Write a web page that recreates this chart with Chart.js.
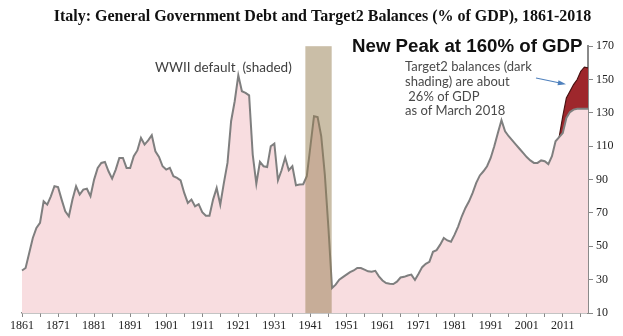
<!DOCTYPE html>
<html>
<head>
<meta charset="utf-8">
<script src="https://cdn.jsdelivr.net/npm/chart.js@4/dist/chart.umd.min.js"></script>
<style>
  body { margin: 0; background: #fff; }
  #wrap { width: 623px; height: 336px; }
</style>
</head>
<body>
<div id="wrap"><canvas id="chart" width="623" height="336"></canvas></div>
<script>
// years 1861..2018
const years = [];
for (let y = 1861; y <= 2018; y++) years.push(y);

// general government debt, % of GDP
const debt = [
  35.5, 37, 46, 55, 61, 64, 77, 75, 80, 86,          // 1861-1870
  85.5, 78, 71, 68, 78, 86, 81, 84, 84.5, 80,        // 1871-1880
  90, 97, 100, 100.6, 95, 90.6, 96, 103, 103, 97,    // 1881-1890
  97, 104, 107.5, 115, 111, 113.5, 116.6, 107, 103.6, 98, // 1891-1900
  96, 97, 92, 91, 89.5, 82, 76, 78, 74, 75.3,        // 1901-1910
  70.5, 68.3, 68.3, 78, 85, 75, 88, 100, 125, 137,   // 1911-1920
  152.5, 143, 142, 140.5, 105, 87.5, 100.6, 98, 97.5, 110, // 1921-1930
  111.6, 89.6, 95.6, 103.2, 95.6, 98, 86.6, 87, 87.2, 92,  // 1931-1940
  110, 128, 127.5, 116, 93, 61, 25, 27, 30, 31.5,    // 1941-1950
  33, 34.5, 35.5, 37, 37, 36, 35, 34.7, 35.3, 32,    // 1951-1960
  29.5, 28, 27.6, 27.4, 28.8, 31.3, 31.7, 32.5, 33, 29.8, // 1961-1970
  33.5, 37.5, 39.5, 40.7, 46.7, 47.7, 51, 55, 53.5, 52.7, // 1971-1980
  57, 62, 68, 73, 77, 82, 88, 92.5, 95, 98,          // 1981-1990
  103, 110, 118, 125.6, 119, 116, 113.5, 111, 108.5, 106, // 1991-2000
  103.5, 101.5, 100, 100, 101.5, 101, 99.3, 104, 113, 115.5, // 2001-2010
  118, 127, 130.5, 132, 132.5, 132.5, 132.5, 132.5    // 2011-2018
];

// Target2 balances, % of GDP, 2010..2018 (dark shading on top of debt)
const target2Years = [2010, 2011, 2012, 2013, 2014, 2015, 2016, 2017, 2018];
const target2 = [0, 10, 12, 12.5, 15, 17.5, 22.5, 25, 24.5];

const yTicks = [10, 30, 50, 70, 90, 110, 130, 150, 170];
const wwiiBand = [1939.6, 1946.9];

const total = years.map(function (yr, i) {
  const j = target2Years.indexOf(yr);
  return j < 0 ? null : debt[i] + target2[j];
});

const serif = "'Liberation Serif', 'Times New Roman', serif";

const bandPlugin = {
  id: 'wwiiBand',
  afterDatasetsDraw(chart) {
    const x = chart.scales.x;
    const area = chart.chartArea;
    const x0 = x.getPixelForValue(wwiiBand[0] - years[0]);
    const x1 = x.getPixelForValue(wwiiBand[1] - years[0]);
    const ctx = chart.ctx;
    ctx.save();
    ctx.fillStyle = 'rgba(150,125,80,0.5)';
    ctx.fillRect(x0, area.top, x1 - x0, area.bottom - area.top);
    ctx.restore();
  }
};

const notesPlugin = {
  id: 'notes',
  afterDraw(chart) {
    const ctx = chart.ctx;
    ctx.save();
    ctx.textBaseline = 'middle';
    ctx.fillStyle = '#111';
    ctx.font = "bold 18.7px 'Liberation Sans', Arial, sans-serif";
    ctx.fillText('New Peak at 160% of GDP', 352, 47);

    ctx.fillStyle = '#4a4a4a';
    ctx.font = "13px Lato, 'Open Sans', sans-serif";
    ctx.fillText('Target2 balances (dark', 405, 67);
    ctx.fillText('shading) are about', 405, 82);
    ctx.fillText(' 26% of GDP', 405, 96.5);
    ctx.fillText('as of March 2018', 405, 111);

    ctx.fillStyle = '#404040';
    ctx.font = "13.5px Lato, 'Open Sans', sans-serif";
    ctx.fillText('WWII default  (shaded)', 155, 68);

    // arrow toward the dark shading
    ctx.strokeStyle = '#4f81bd';
    ctx.fillStyle = '#4f81bd';
    ctx.lineWidth = 1.2;
    ctx.beginPath();
    ctx.moveTo(536, 78);
    ctx.lineTo(560, 83);
    ctx.stroke();
    ctx.beginPath();
    ctx.moveTo(566, 84.3);
    ctx.lineTo(558.5, 80.3);
    ctx.lineTo(557.5, 85.3);
    ctx.closePath();
    ctx.fill();
    ctx.restore();
  }
};

new Chart(document.getElementById('chart'), {
  type: 'line',
  data: {
    labels: years,
    datasets: [{
      label: 'Government debt',
      data: debt,
      borderColor: '#7f7f7f',
      borderWidth: 2,
      backgroundColor: '#f8dde0',
      fill: 'start',
      pointRadius: 0,
      tension: 0
    }, {
      label: 'Debt + Target2',
      data: total,
      borderColor: '#4a1212',
      borderWidth: 1.2,
      backgroundColor: '#9e272c',
      fill: '-1',
      pointRadius: 0,
      tension: 0
    }]
  },
  options: {
    responsive: false,
    animation: false,
    layout: { padding: { left: 22, right: 0, top: 0, bottom: 0 } },
    plugins: {
      legend: { display: false },
      tooltip: { enabled: false },
      title: {
        display: true,
        text: 'Italy: General Government Debt and Target2 Balances (% of GDP), 1861-2018',
        color: '#111',
        font: { family: serif, size: 16, weight: 'bold' },
        padding: { top: 7, bottom: 20 }
      }
    },
    scales: {
      x: {
        type: 'category',
        offset: false,
        grid: { drawOnChartArea: false, drawTicks: true, tickLength: 4, color: '#888' },
        border: { color: '#8a8a8a', width: 1.5 },
        ticks: {
          autoSkip: false,
          maxRotation: 0,
          padding: 2,
          color: '#222',
          font: { family: serif, size: 12 },
          callback: function (value, index) {
            const yr = years[index];
            if ((yr - 1861) % 10 === 0) return String(yr);
            if ((yr - 1861) % 5 === 0) return '';
            return null;
          }
        },
        afterFit: function (scale) { scale.height = 23; }
      },
      y: {
        position: 'right',
        min: 10,
        max: 170,
        afterBuildTicks: function (scale) {
          scale.ticks = yTicks.map(function (v) { return { value: v }; });
        },
        grid: { drawOnChartArea: false, drawTicks: true, tickLength: 5, color: '#888' },
        border: { color: '#8a8a8a', width: 2 },
        ticks: {
          padding: 3,
          color: '#222',
          font: { family: serif, size: 12 }
        },
        afterFit: function (scale) { scale.width = 35; }
      }
    }
  },
  plugins: [bandPlugin, notesPlugin]
});
</script>
</body>
</html>
